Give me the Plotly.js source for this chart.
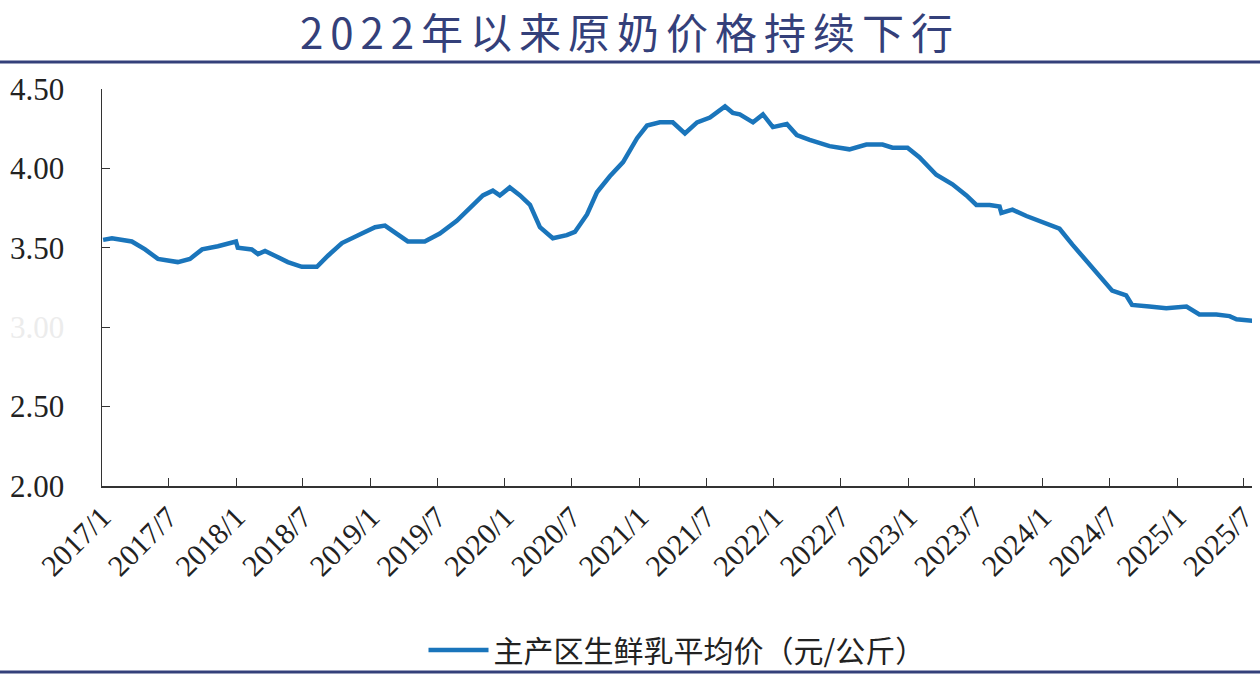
<!DOCTYPE html>
<html>
<head>
<meta charset="utf-8">
<script src="https://cdn.plot.ly/plotly-3.0.1.min.js"></script>
<style>
  html, body { margin: 0; padding: 0; background: #ffffff; }
  #chart { width: 1260px; height: 699px; }
  /* the original spaces out its title lettering */
  #chart .gtitle { letter-spacing: 7px; }
</style>
</head>
<body>
<div id="chart"></div>
<script>
const dates = [
  '2017-01-04', '2017-01-28', '2017-03-23', '2017-04-28', '2017-06-02', '2017-07-26',
  '2017-08-28', '2017-09-30', '2017-11-12', '2017-12-09', '2017-12-31', '2018-01-05',
  '2018-02-12', '2018-03-01', '2018-03-20', '2018-04-16', '2018-05-21', '2018-06-28',
  '2018-08-08', '2018-09-07', '2018-10-15', '2018-12-08', '2019-01-13', '2019-02-09',
  '2019-03-08', '2019-04-12', '2019-05-28', '2019-07-08', '2019-08-23', '2019-09-28',
  '2019-11-02', '2019-11-29', '2019-12-18', '2020-01-14', '2020-02-11', '2020-03-09',
  '2020-04-05', '2020-05-10', '2020-06-17', '2020-07-09', '2020-08-11', '2020-09-07',
  '2020-10-12', '2020-11-17', '2020-12-25', '2021-01-21', '2021-02-25', '2021-04-01',
  '2021-05-04', '2021-06-06', '2021-07-11', '2021-08-21', '2021-09-11', '2021-09-30',
  '2021-11-05', '2021-12-02', '2021-12-29', '2022-02-05', '2022-03-04', '2022-04-08',
  '2022-06-01', '2022-07-25', '2022-09-09', '2022-10-23', '2022-11-19', '2022-12-30',
  '2023-01-31', '2023-03-18', '2023-05-01', '2023-06-08', '2023-07-05', '2023-08-10',
  '2023-09-06', '2023-09-11', '2023-10-11', '2023-11-18', '2024-01-01', '2024-02-16',
  '2024-03-22', '2024-04-29', '2024-06-03', '2024-07-08', '2024-08-15', '2024-08-31',
  '2024-10-17', '2024-12-02', '2025-01-26', '2025-03-02', '2025-04-17', '2025-05-23',
  '2025-06-11', '2025-07-24'
];
const prices = [
  3.55, 3.56, 3.54, 3.49, 3.43, 3.41,
  3.43, 3.49, 3.51, 3.53, 3.54, 3.50,
  3.49, 3.46, 3.48, 3.45, 3.41, 3.38,
  3.38, 3.45, 3.53, 3.59, 3.63, 3.64,
  3.60, 3.54, 3.54, 3.59, 3.67, 3.75,
  3.83, 3.86, 3.83, 3.88, 3.83, 3.77,
  3.63, 3.56, 3.58, 3.60, 3.71, 3.85,
  3.95, 4.04, 4.19, 4.27, 4.29, 4.29,
  4.22, 4.29, 4.32, 4.39, 4.35, 4.34,
  4.29, 4.34, 4.26, 4.28, 4.21, 4.18,
  4.14, 4.12, 4.15, 4.15, 4.13, 4.13,
  4.07, 3.96, 3.90, 3.83, 3.77, 3.77,
  3.76, 3.72, 3.74, 3.70, 3.66, 3.62,
  3.52, 3.42, 3.32, 3.23, 3.20, 3.14,
  3.13, 3.12, 3.13, 3.08, 3.08, 3.07,
  3.05, 3.04
];

// Axis ticks
const xTickVals = [
  '2017-01-01', '2017-07-01', '2018-01-01', '2018-07-01', '2019-01-01', '2019-07-01',
  '2020-01-01', '2020-07-01', '2021-01-01', '2021-07-01', '2022-01-01', '2022-07-01',
  '2023-01-01', '2023-07-01', '2024-01-01', '2024-07-01', '2025-01-01', '2025-07-01'
];
const xTickText = [
  '2017/1', '2017/7', '2018/1', '2018/7', '2019/1', '2019/7',
  '2020/1', '2020/7', '2021/1', '2021/7', '2022/1', '2022/7',
  '2023/1', '2023/7', '2024/1', '2024/7', '2025/1', '2025/7'
];
const yTickVals = [2.0, 2.5, 3.0, 3.5, 4.0, 4.5];
// the 3.00 label is washed out in the original
const yTickText = ['2.00', '2.50', '<span style="color:#ececec">3.00</span>', '3.50', '4.00', '4.50'];

const seriesName = '主产区生鲜乳平均价（元/公斤）';
const chartTitle = '2022年以来原奶价格持续下行';

const navy = '#34407a';
const axisColor = '#333333';

const trace = {
    x: dates,
    y: prices,
    type: 'scatter',
    mode: 'lines',
    name: seriesName,
    line: { color: '#1a75bb', width: 4.5 }
};

const layout = {
    width: 1260,
    height: 699,
    margin: { l: 102, r: 8, t: 89, b: 213 },
    paper_bgcolor: '#ffffff',
    plot_bgcolor: '#ffffff',
    title: {
        text: chartTitle,
        x: 0.5,
        xanchor: 'center',
        y: 0.951,
        yref: 'container',
        yanchor: 'middle',
        font: { family: 'Noto Sans CJK SC', size: 42, color: navy }
    },
    showlegend: true,
    legend: {
        orientation: 'h',
        x: 0.5,
        xanchor: 'center',
        y: -0.413,
        yanchor: 'middle',
        bgcolor: 'rgba(0,0,0,0)',
        font: { family: 'Noto Sans CJK SC', size: 30, color: '#222222' },
        itemwidth: 60
    },
    xaxis: {
        type: 'date',
        range: ['2017-01-01', '2025-07-23'],
        tickmode: 'array',
        tickvals: xTickVals,
        ticktext: xTickText,
        tickangle: -45,
        ticks: 'inside',
        ticklen: 8,
        tickcolor: axisColor,
        showline: true,
        linecolor: axisColor,
        linewidth: 1.5,
        showgrid: false,
        zeroline: false,
        tickfont: { family: 'Liberation Serif', size: 30, color: '#222222' }
    },
    yaxis: {
        range: [2.0, 4.5],
        tickmode: 'array',
        tickvals: yTickVals,
        ticktext: yTickText,
        ticks: 'inside',
        ticklen: 8,
        tickcolor: axisColor,
        ticklabelstandoff: 30,
        showline: true,
        linecolor: axisColor,
        linewidth: 1.5,
        showgrid: false,
        zeroline: false,
        tickfont: { family: 'Liberation Serif', size: 31, color: '#222222' }
    },
    shapes: [
        // top and bottom rules of the figure frame
        { type: 'line', xref: 'paper', yref: 'paper', x0: -0.1, x1: 1.1, y0: 1.068, y1: 1.068,
          line: { color: navy, width: 3 } },
        { type: 'line', xref: 'paper', yref: 'paper', x0: -0.1, x1: 1.1, y0: -0.4685, y1: -0.4685,
          line: { color: navy, width: 3 } }
    ]
};

Plotly.newPlot('chart', [trace], layout, { displayModeBar: false, staticPlot: true });
</script>
</body>
</html>
